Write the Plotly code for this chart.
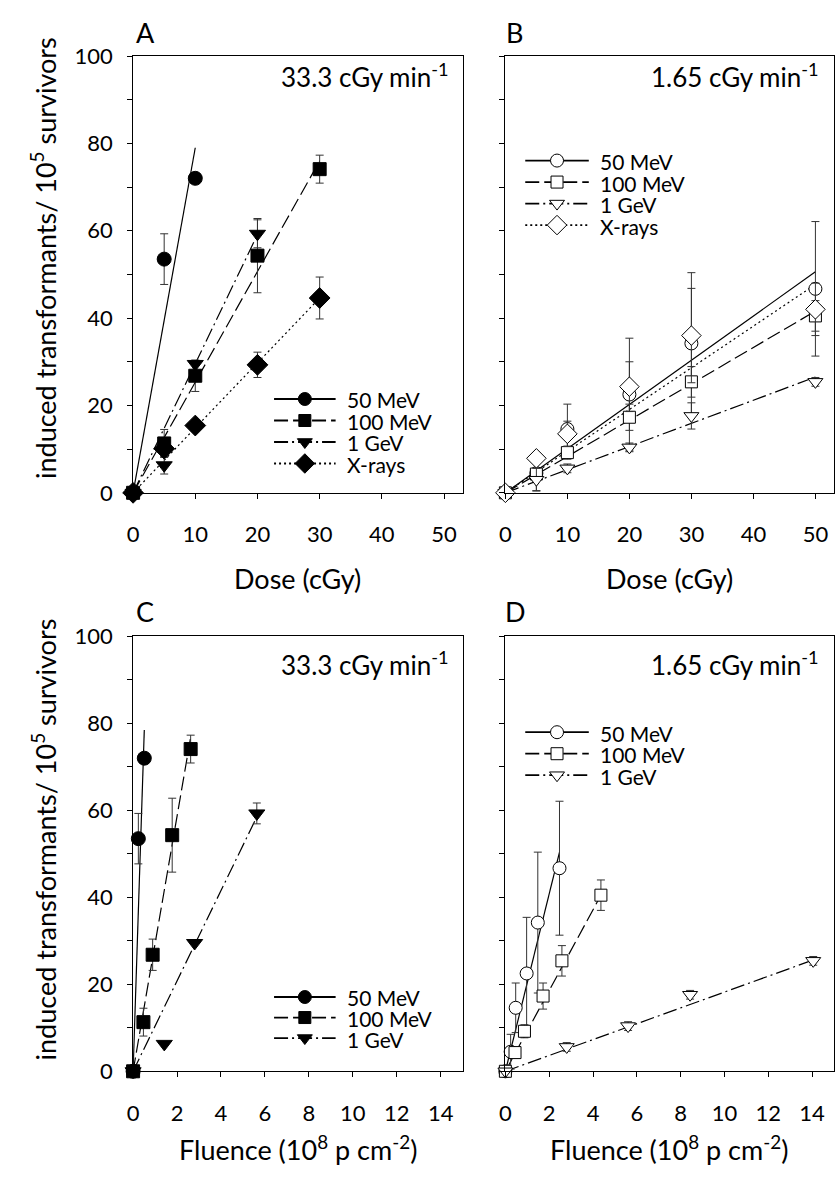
import plotly.graph_objects as go

W, H = 836, 1182
FONT = "Lato"

# ---------------- data ----------------
# Panel A: 33.3 cGy/min, transformants vs dose (cGy)
a_dose_50 = [0, 5, 10]
a_val_50 = [0, 53.5, 72.0]
a_err_50 = [0, 5.8, 0]
a_dose_100 = [0, 5, 10, 20, 30]
a_val_100 = [0, 11.3, 26.8, 54.3, 74.1]
a_err_100 = [0, 3.2, 3.6, 8.5, 3.2]
a_dose_1g = [0, 5, 10, 20]
a_val_1g = [0, 6.3, 29.5, 59.3]
a_err_1g = [0, 2.0, 0, 3.2]
a_dose_x = [0, 5, 10, 20, 30]
a_val_x = [0, 10.1, 15.4, 29.3, 44.6]
a_err_x = [0, 0, 0, 2.9, 4.8]
# fitted lines (end points)
a_fit_50 = ([0, 10], [0, 79])
a_fit_100 = ([0, 30], [0, 76])
a_fit_1g = ([0, 20.3], [0, 60])
a_fit_x = ([0, 30], [0, 44.6])

# Panel B: 1.65 cGy/min, transformants vs dose (cGy)
b_dose = [0, 5, 10, 20, 30, 50]
b_val_50 = [0, 4.5, 14.6, 22.5, 34.2, 46.7]
b_err_50 = [0, 4.0, 5.7, 12.9, 16.2, 15.4]
b_val_100 = [0, 4.3, 9.2, 17.3, 25.4, 40.5]
b_err_100 = [0, 1.0, 1.5, 3.0, 3.5, 3.5]
b_val_1g = [0, 3.0, 5.6, 10.4, 17.6, 25.4]
b_err_1g = [0, 2.6, 1.0, 1.0, 3.0, 1.0]
b_val_x = [0, 7.9, 13.5, 24.3, 36.0, 42.0]
b_err_x = [0, 1.0, 2.9, 5.7, 10.8, 6.0]
b_fit_50 = ([0, 50], [0, 50.6])
b_fit_100 = ([0, 50], [0, 41.6])
b_fit_1g = ([0, 50], [0, 26.5])
b_fit_x = ([0, 50], [0, 47.7])

# Panel C: 33.3 cGy/min, transformants vs fluence (1e8 p/cm2)
c_flu_50 = [0, 0.24, 0.51]
c_flu_100 = [0, 0.47, 0.89, 1.78, 2.62]
c_flu_1g = [0, 1.42, 2.80, 5.63]
c_err_1g = [0, 0, 0, 2.4]
c_fit_50 = ([0, 0.51], [0, 78.5])
c_fit_100 = ([0, 2.62], [0, 76.8])
c_fit_1g = ([0, 5.63], [0, 58.5])

# Panel D: 1.65 cGy/min, transformants vs fluence (1e8 p/cm2)
d_flu_50 = [0, 0.24, 0.47, 0.97, 1.48, 2.47]
d_flu_100 = [0, 0.44, 0.87, 1.72, 2.58, 4.36]
d_flu_1g = [0, 2.80, 5.60, 8.43, 14.05]
d_val_1g = [0, 5.6, 10.4, 17.6, 25.4]
d_err_1g = [0, 1.0, 1.0, 1.0, 1.0]
d_fit_50 = ([0, 2.47], [0, 50.4])
d_fit_100 = ([0, 4.36], [0, 40.5])
d_fit_1g = ([0, 14.05], [0, 25.6])

series_names = ["50 MeV", "100 MeV", "1 GeV", "X-rays"]
symbols = ["circle", "square", "triangle-down", "diamond"]
sizes = [14, 13, 14, 16]
dashes = ["solid", "14px,5px", "14px,4px,2px,4px", "2px,3px"]

rate_top = "33.3 cGy min<sup>-1</sup>"
rate_low = "1.65 cGy min<sup>-1</sup>"
ytitle = "induced transformants/ 10<sup>5</sup> survivors"
xtitle_dose = "Dose (cGy)"
xtitle_flu = "Fluence (10<sup>8</sup> p cm<sup>-2</sup>)"
panel_letters = ["A", "B", "C", "D"]

# ---------------- layout helpers (pixel -> paper) ----------------
def px_x(p):
    return p / W

def px_y(p):
    return 1 - p / H

LEFT = (128, 460)
RIGHT = (503, 834)
TOP = (43, 490)
BOT = (637, 1082)

fig = go.Figure()

def add_panel(idx, lines, pts, filled):
    xref = "x" if idx == 1 else f"x{idx}"
    yref = "y" if idx == 1 else f"y{idx}"
    for k, (fx, fy) in enumerate(lines):
        fig.add_trace(go.Scatter(x=fx, y=fy, mode="lines", xaxis=xref, yaxis=yref,
                                 line=dict(color="black", width=1.2, dash=dashes[k]),
                                 showlegend=False, cliponaxis=False, hoverinfo="skip"))
    for k, (xs, ys, es) in enumerate(pts):
        fig.add_trace(go.Scatter(
            x=xs, y=ys, mode="markers", xaxis=xref, yaxis=yref,
            error_y=dict(type="data", array=es, color="#333", thickness=1, width=4),
            marker=dict(symbol=symbols[k], size=sizes[k] - (0 if filled else 1),
                        color="black" if filled else "white",
                        line=dict(color="black", width=1)),
            name=series_names[k], showlegend=False, cliponaxis=False))

add_panel(1, [a_fit_50, a_fit_100, a_fit_1g, a_fit_x],
          [(a_dose_50, a_val_50, a_err_50), (a_dose_100, a_val_100, a_err_100),
           (a_dose_1g, a_val_1g, a_err_1g), (a_dose_x, a_val_x, a_err_x)], True)
add_panel(2, [b_fit_50, b_fit_100, b_fit_1g, b_fit_x],
          [(b_dose, b_val_50, b_err_50), (b_dose, b_val_100, b_err_100),
           (b_dose, b_val_1g, b_err_1g), (b_dose, b_val_x, b_err_x)], False)
add_panel(3, [c_fit_50, c_fit_100, c_fit_1g],
          [(c_flu_50, a_val_50, a_err_50), (c_flu_100, a_val_100, a_err_100),
           (c_flu_1g, a_val_1g, c_err_1g)], True)
add_panel(4, [d_fit_50, d_fit_100, d_fit_1g],
          [(d_flu_50, b_val_50, b_err_50), (d_flu_100, b_val_100, b_err_100),
           (d_flu_1g, d_val_1g, d_err_1g)], False)

# ---------------- legend keys (drawn on a hidden pixel-space overlay axis) ----------------
ann = []
LEGFONT = 21

def legend_block(x0, x1, rows, n, filled):
    xm = (x0 + x1) / 2
    for k in range(n):
        yr = rows[k]
        fig.add_trace(go.Scatter(x=[x0, x1], y=[yr, yr], mode="lines", xaxis="x5", yaxis="y5",
                                 line=dict(color="black", width=1.8, dash=dashes[k]),
                                 showlegend=False, hoverinfo="skip", cliponaxis=False))
        fig.add_trace(go.Scatter(x=[xm], y=[yr], mode="markers", xaxis="x5", yaxis="y5",
                                 marker=dict(symbol=symbols[k], size=sizes[k] - 1,
                                             color="black" if filled else "white",
                                             line=dict(color="black", width=1)),
                                 showlegend=False, hoverinfo="skip", cliponaxis=False))
        ann.append(dict(text=series_names[k], x=px_x(x1 + 10), y=px_y(yr + 1), xref="paper",
                        yref="paper", showarrow=False, xanchor="left", yanchor="middle",
                        borderpad=0,
                        font=dict(family=FONT, size=LEGFONT, color="black")))

legend_block(270, 332, [394, 416, 438, 460], 4, True)
legend_block(523, 587, [150, 172, 194, 216], 4, False)
legend_block(270, 332, [1006, 1027, 1048], 3, True)
legend_block(523, 587, [735, 757, 779], 3, False)

tickfont = dict(family=FONT, size=22, color="black")

def xaxis(dom, rng, tickvals, anchor):
    # visible axis line and short ticks; labels come from the overlay axis below
    return dict(domain=[px_x(dom[0]), px_x(dom[1])], range=rng, tickvals=tickvals,
                ticks="outside", ticklen=5, tickcolor="black", showline=True,
                linecolor="black", linewidth=1, mirror=True, showgrid=False,
                zeroline=False, showticklabels=False, anchor=anchor)

def xlabels(over, rng, tickvals, anchor):
    # same scale, transparent long ticks push the labels away from the axis line
    return dict(overlaying=over, anchor=anchor, side="bottom", range=rng, tickvals=tickvals,
                ticks="outside", ticklen=22, tickcolor="rgba(0,0,0,0)", showline=False,
                showgrid=False, zeroline=False, tickfont=tickfont, fixedrange=True)

def yaxis(dom, labels, anchor):
    return dict(domain=[px_y(dom[1]), px_y(dom[0])], range=[0, 100], dtick=20, tick0=0,
                ticks="outside", ticklen=5, tickcolor="black", showline=True,
                linecolor="black", linewidth=1, mirror=True, showgrid=False,
                zeroline=False, tickfont=tickfont, showticklabels=labels,
                minor=dict(dtick=10, ticks="outside", ticklen=5, tickcolor="black"),
                ticklabelstandoff=10, anchor=anchor)

dose_ticks = [0, 10, 20, 30, 40, 50]
flu_ticks = [0, 2, 4, 6, 8, 10, 12, 14]

fig.update_layout(
    width=W, height=H, margin=dict(l=0, r=0, t=0, b=0),
    paper_bgcolor="white", plot_bgcolor="rgba(0,0,0,0)",
    font=dict(family=FONT, color="black"), showlegend=False,
    xaxis=xaxis(LEFT, [0, 53], dose_ticks, "y"), yaxis=yaxis(TOP, True, "x"),
    xaxis2=xaxis(RIGHT, [0, 53], dose_ticks, "y2"), yaxis2=yaxis(TOP, False, "x2"),
    xaxis3=xaxis(LEFT, [0, 15], flu_ticks, "y3"), yaxis3=yaxis(BOT, True, "x3"),
    xaxis4=xaxis(RIGHT, [0, 15], flu_ticks, "y4"), yaxis4=yaxis(BOT, False, "x4"),
    xaxis5=dict(domain=[0, 1], range=[0, W], visible=False, anchor="y5", fixedrange=True),
    yaxis5=dict(domain=[0, 1], range=[H, 0], visible=False, anchor="x5", fixedrange=True),
    xaxis6=xlabels("x", [0, 53], dose_ticks, "y"),
    xaxis7=xlabels("x2", [0, 53], dose_ticks, "y2"),
    xaxis8=xlabels("x3", [0, 15], flu_ticks, "y3"),
    xaxis9=xlabels("x4", [0, 15], flu_ticks, "y4"),
)

def text(s, xp, yp, size, xanchor="center", yanchor="middle", angle=0):
    ann.append(dict(text=s, x=px_x(xp), y=px_y(yp), xref="paper", yref="paper",
                    showarrow=False, xanchor=xanchor, yanchor=yanchor, textangle=angle,
                    font=dict(family=FONT, size=size, color="black")))

for letter, (xp, yp) in zip(panel_letters, [(141, 19), (512, 19), (140, 611), (513, 611)]):
    text(letter, xp, yp, 27)
text(rate_top, 448, 63, 26, xanchor="right")
text(rate_low, 821, 63, 26, xanchor="right")
text(rate_top, 448, 665, 26, xanchor="right")
text(rate_low, 821, 665, 26, xanchor="right")
text(xtitle_dose, 294, 578, 27)
text(xtitle_dose, 668, 578, 27)
text(xtitle_flu, 294, 1161, 27)
text(xtitle_flu, 668, 1161, 27)
text(ytitle, 38, 250, 27, angle=-90)
text(ytitle, 38, 845, 27, angle=-90)
fig.update_layout(annotations=ann)

# an invisible point on each label axis so plotly draws it
for i, (ax, rng) in enumerate([("x6", 53), ("x7", 53), ("x8", 15), ("x9", 15)]):
    yref = ["y", "y2", "y3", "y4"][i]
    fig.add_trace(go.Scatter(x=[None], y=[None], xaxis=ax, yaxis=yref, mode="markers",
                             showlegend=False, hoverinfo="skip"))

fig.write_html("out.html", config={"displayModeBar": False},
               post_script="document.body.style.margin='0px';document.body.style.overflow='hidden';")
